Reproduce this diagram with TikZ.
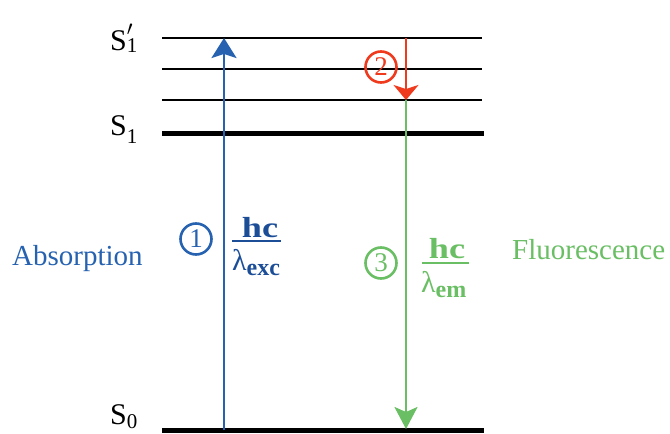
\documentclass[tikz,border=0pt]{standalone}
\usepackage{graphicx}
\usepackage{fontspec}
\setmainfont{Liberation Serif}
\usetikzlibrary{arrows.meta}
\definecolor{absblue}{RGB}{38,98,176}
\definecolor{fracblue}{RGB}{28,78,152}
\definecolor{flgreen}{RGB}{106,190,100}
\definecolor{rxred}{RGB}{240,58,30}
\tikzset{
  thinlevel/.style={line width=2.6pt, black},
  thicklevel/.style={line width=5pt, black},
  statelabel/.style={anchor=base west, inner sep=0pt, font=\fontsize{30}{30}\selectfont},
  numcircle/.style={circle, draw, line width=2.6pt, minimum size=31pt, inner sep=0pt, font=\fontsize{27}{27}\selectfont},
  numer/.style={anchor=base, inner sep=0pt, font=\fontsize{29}{29}\selectfont\bfseries},
  denom/.style={anchor=base west, inner sep=0pt, font=\fontsize{30}{30}\selectfont},
  fracbar/.style={line width=2pt},
  sidelabel/.style={anchor=base west, inner sep=0pt, font=\fontsize{29}{29}\selectfont}
}
\newcommand{\subtxt}[1]{\raisebox{-5pt}{\fontsize{24}{24}\selectfont\bfseries #1}}
\begin{document}
\begin{tikzpicture}[x=1pt,y=-1pt]
\useasboundingbox (0,0) rectangle (670,434);
% levels
\coordinate (L1a) at (162,38);  \coordinate (L1b) at (482,38);
\coordinate (L2a) at (162,69);  \coordinate (L2b) at (482,69);
\coordinate (L3a) at (162,100); \coordinate (L3b) at (482,100);
\coordinate (S1a) at (162,133); \coordinate (S1b) at (484,133);
\coordinate (S0a) at (162,430); \coordinate (S0b) at (484,430);
\draw[thinlevel] (L1a) -- (L1b);
\draw[thinlevel] (L2a) -- (L2b);
\draw[thinlevel] (L3a) -- (L3b);
\draw[thicklevel] (S1a) -- (S1b);
\draw[thicklevel] (S0a) -- (S0b);
% state labels
\node[statelabel] (lS1p) at (110,50) {S\rlap{\raisebox{15pt}{\fontsize{22}{22}\selectfont$\prime$}}\raisebox{-2pt}{\fontsize{21}{21}\selectfont 1}};
\node[statelabel] (lS1) at (110,135) {S\raisebox{-8pt}{\fontsize{21}{21}\selectfont 1}};
\node[statelabel] (lS0) at (110,424) {S\raisebox{-4pt}{\fontsize{21}{21}\selectfont 0}};
% arrows
\coordinate (absBot) at (224,430);
\coordinate (absTop) at (224,38);
\coordinate (redTop) at (406,38);
\coordinate (redBot) at (406,100);
\coordinate (grBot) at (406,429);
\draw[absblue, line width=2.2pt, -{Stealth[length=20pt,width=25pt,inset=4pt]}] (absBot) -- (absTop);
\draw[flgreen, line width=2.6pt, -{Stealth[length=22pt,width=23pt,inset=5pt]}] (redBot) -- (grBot);
\draw[rxred, line width=2.2pt, -{Stealth[length=15pt,width=25pt,inset=4pt]}] (redTop) -- (redBot);
% circled numbers
\node[numcircle, draw=absblue, text=absblue] (c1) at (196,239) {1};
\node[numcircle, draw=rxred, text=rxred] (c2) at (381,67) {2};
\node[numcircle, draw=flgreen, text=flgreen] (c3) at (381,263) {3};
% fraction 1
\node[numer, text=fracblue] (n1) at (260,237) {\scalebox{1.25}[1]{hc}};
\coordinate (b1a) at (232,241); \coordinate (b1b) at (281,241);
\draw[fracbar, fracblue] (b1a) -- (b1b);
\node[denom, text=fracblue] (d1) at (232,270) {λ\subtxt{exc}};
% fraction 2
\node[numer, text=flgreen] (n2) at (447,258) {\scalebox{1.25}[1]{hc}};
\coordinate (b2a) at (422,263); \coordinate (b2b) at (469,263);
\draw[fracbar, flgreen] (b2a) -- (b2b);
\node[denom, text=flgreen] (d2) at (421,292) {λ\subtxt{em}};
% side labels
\node[sidelabel, text=absblue] (abs) at (12,265) {Absorption};
\node[sidelabel, text=flgreen] (flu) at (512,259) {Fluorescence};
\end{tikzpicture}
\end{document}
